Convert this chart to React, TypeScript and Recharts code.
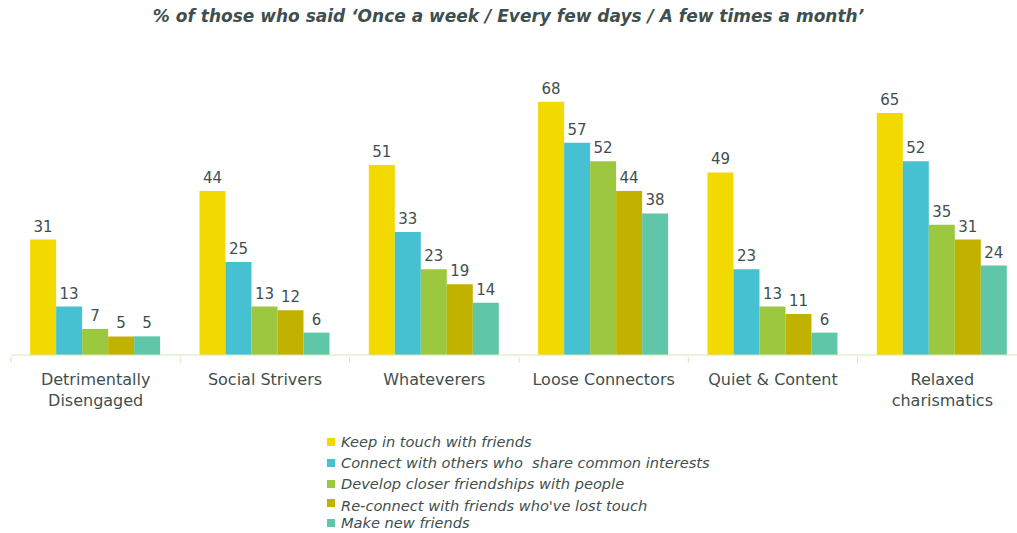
import React from 'react';
import { BarChart, Bar, XAxis, YAxis, LabelList } from 'recharts';

const categories = [
  'Detrimentally Disengaged',
  'Social Strivers',
  'Whateverers',
  'Loose Connectors',
  'Quiet & Content',
  'Relaxed charismatics',
];

// two-line tick labels
const tickLines: Record<string, string[]> = {
  'Detrimentally Disengaged': ['Detrimentally', 'Disengaged'],
  'Relaxed charismatics': ['Relaxed', 'charismatics'],
};

const keepInTouch = [31, 44, 51, 68, 49, 65];
const connectOthers = [13, 25, 33, 57, 23, 52];
const developCloser = [7, 13, 23, 52, 13, 35];
const reconnect = [5, 12, 19, 44, 11, 31];
const makeNew = [5, 6, 14, 38, 6, 24];

const seriesNames = [
  'Keep in touch with friends',
  'Connect with others who  share common interests',
  'Develop closer friendships with people',
  "Re-connect with friends who've lost touch",
  'Make new friends',
];

const COLORS = ['#F2D900', '#45C1D1', '#9BC83E', '#C2B200', '#5FC6A8'];
const TEXT = '#3F4F4F';
const FONT = '"DejaVu Sans", sans-serif';

const data = categories.map((name, i) => ({
  name,
  s0: keepInTouch[i],
  s1: connectOthers[i],
  s2: developCloser[i],
  s3: reconnect[i],
  s4: makeNew[i],
}));

const CategoryTick = (props: any) => {
  const { x, y, payload } = props;
  const lines = tickLines[payload.value] || [payload.value];
  const half = 169.4 / 2;
  return (
    <g>
      <line x1={x - half} y1={y} x2={x - half} y2={y + 6} stroke="#D6E6B8" />
      <text x={x} y={y + 28} textAnchor="middle" fill={TEXT} fontSize={16} fontFamily={FONT}>
        {lines.map((l, i) => (
          <tspan key={i} x={x} dy={i === 0 ? 0 : 21}>{l}</tspan>
        ))}
      </text>
    </g>
  );
};

const legendTops = [433, 454, 475, 497, 514];

const App: React.FC = () => {
  return (
    <div style={{ position: 'absolute', left: 0, top: 0, width: 1017, height: 533, background: '#fff', fontFamily: FONT, overflow: 'hidden' }}>
      <div
        style={{
          position: 'absolute', left: 0, top: 6, width: 1017, textAlign: 'center',
          fontSize: 17, fontWeight: 700, fontStyle: 'italic', color: TEXT,
        }}
      >
        % of those who said ‘Once a week / Every few days / A few times a month’
      </div>
      <BarChart
        width={1030}
        height={533}
        data={data}
        margin={{ top: 57, right: 3, left: 11, bottom: 0 }}
        barCategoryGap="11.3%"
        barGap={0}
      >
        <XAxis
          dataKey="name"
          axisLine={{ stroke: '#D6E6B8' }}
          tickLine={false}
          tick={<CategoryTick />}
          tickSize={0}
          interval={0}
          height={178}
        />
        <YAxis hide domain={[0, 80]} />
        {['s0', 's1', 's2', 's3', 's4'].map((k, i) => (
          <Bar key={k} dataKey={k} fill={COLORS[i]} isAnimationActive={false}>
            <LabelList dataKey={k} position="top" offset={8} fill={TEXT} fontSize={15} fontFamily={FONT} />
          </Bar>
        ))}
      </BarChart>
      {seriesNames.map((n, i) => (
        <div
          key={n}
          style={{
            position: 'absolute', left: 327, top: legendTops[i], display: 'flex', alignItems: 'center',
            fontSize: 14.6, lineHeight: '17px', fontStyle: 'italic', color: TEXT, whiteSpace: 'pre',
          }}
        >
          <span style={{ width: 8, height: 8, background: COLORS[i], marginRight: 6, marginTop: i === 3 ? -6 : 0 }} />
          {n}
        </div>
      ))}
    </div>
  );
};

export default App;
